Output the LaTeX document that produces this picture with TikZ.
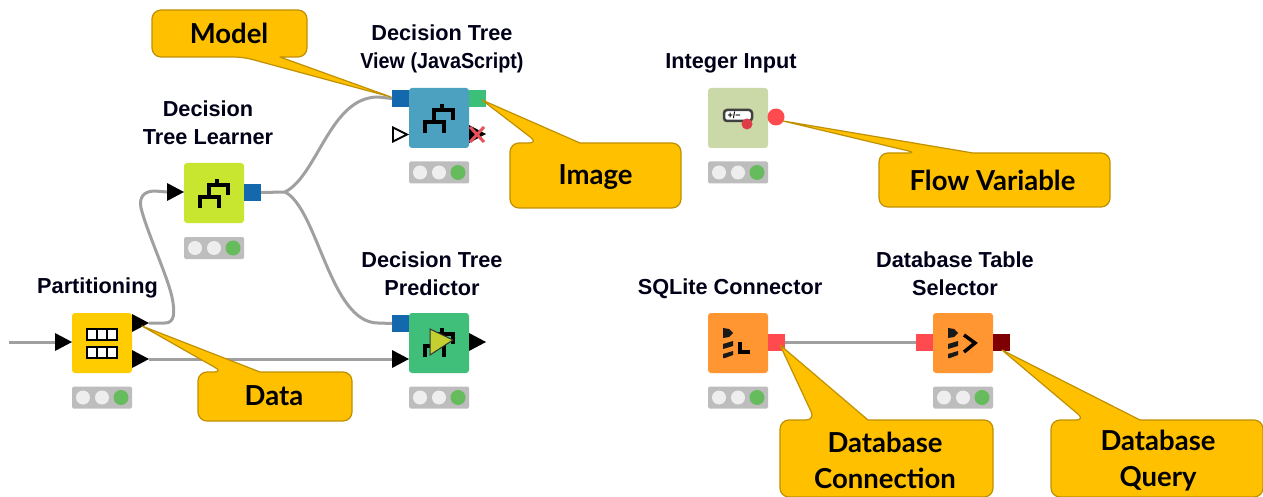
\documentclass[tikz,border=0pt]{standalone}
\usepackage{fontspec}
\usepackage{graphicx}
\setmainfont{Liberation Sans}
\newfontfamily\callfont{Lato}
\definecolor{wirec}{HTML}{A0A0A0}
\definecolor{callfill}{HTML}{FFC000}
\definecolor{callline}{HTML}{BF9000}
\definecolor{portblue}{HTML}{1468AE}
\definecolor{portgreen}{HTML}{3CBF78}
\definecolor{portred}{HTML}{FF4B4F}
\definecolor{portdark}{HTML}{7F0000}
\definecolor{lampoff}{HTML}{EEEEEE}
\definecolor{lampon}{HTML}{66BB5C}
\definecolor{lampbg}{HTML}{BDBDBD}
\tikzset{
  wire/.style={draw=wirec,line width=3pt,line join=round},
  body/.style={rectangle,rounded corners=3pt,minimum size=60pt,inner sep=0pt,outer sep=0pt,draw=none},
  portbox/.style={rectangle,minimum size=17pt,inner sep=0pt,outer sep=0pt,draw=none},
  trinode/.style={rectangle,minimum width=17pt,minimum height=18pt,inner sep=0pt,outer sep=0pt,draw=none,anchor=west},
  lampbar/.style={rectangle,rounded corners=1.5pt,minimum width=60pt,minimum height=22pt,inner sep=0pt,fill=lampbg},
  title/.style={align=center,font=\fontsize{21.7}{28}\selectfont\bfseries,inner sep=0pt,text=black!90!blue},
  calltext/.style={align=center,font=\fontsize{27.5}{36}\selectfont\callfont\bfseries,inner sep=0pt,text=black},
  callshape/.style={fill=callfill,draw=callline,line width=1.2pt,line join=round},
  iconline/.style={draw=black,line width=3.2pt},
}
% x left, y top, x right, y bottom, base x1, base x2, tip
\newcommand{\kcallout}[7]{%
  \draw[callshape] (#5,#2) [sharp corners] -- (#7) -- (#6,#2) [rounded corners=9pt] -- (#3,#2) -- (#3,#4) -- (#1,#4) -- (#1,#2) -- cycle;
}
\newcommand{\ktri}[3]{% name, x of base, y
  \node[trinode] (#1) at (#2,#3) {};
  \fill[black] (#1.south west) -- (#1.north west) -- (#1.east) -- cycle;
}
\newcommand{\klamp}[3]{% name, x centre, y centre
  \node[lampbar] (#1) at (#2,#3) {};
  \fill[lampoff] (#1.center) ++(-19,0) circle (7pt);
  \fill[lampoff] (#1.center) circle (7pt);
  \fill[lampon] (#1.center) ++(19,0) circle (7.5pt);
}
\newcommand{\ktree}[1]{% centre
  \begin{scope}[shift={(#1)}]
    \draw[iconline] (3,-14) -- (3,-8);
    \draw[iconline] (-5,4) -- (-5,-8) -- (14,-8) -- (14,2);
    \draw[iconline] (-14,15) -- (-14,4) -- (5,4) -- (5,15);
  \end{scope}
}
\newcommand{\kstack}[1]{% top-left reference
  \begin{scope}[shift={(#1)}]
    \fill[black!90] (0,-1) -- (6,0) -- (10,4) -- (6,8) -- (0,9) -- cycle;
    \fill[black!90] (0,15) -- (10,12) -- (10,17) -- (0,20) -- cycle;
    \fill[black!90] (0,25) -- (10,22) -- (10,26) -- (2,29) -- (0,29) -- cycle;
  \end{scope}
}
\begin{document}
\begin{tikzpicture}[x=1pt,y=-1pt]
\useasboundingbox (0,0) rectangle (1263,497);
\fill[white] (0,0) rectangle (1263,497);

% node bodies
\node[body,fill={rgb,255:red,255;green,204;blue,0}] (part) at (102,343) {};
\node[body,fill={rgb,255:red,200;green,230;blue,47}] (learn) at (214,193) {};
\node[body,fill={rgb,255:red,77;green,161;blue,192}] (view) at (439,118) {};
\node[body,fill={rgb,255:red,63;green,191;blue,122}] (pred) at (439,343) {};
\node[body,fill={rgb,255:red,203;green,217;blue,168}] (intin) at (738,118) {};
\node[body,fill={rgb,255:red,255;green,150;blue,50}] (sqlite) at (738,343) {};
\node[body,fill={rgb,255:red,255;green,150;blue,50}] (select) at (963,343) {};

% ports
\ktri{partin}{55}{342}
\ktri{partouta}{132}{323}
\ktri{partoutb}{132}{359}
\ktri{learnin}{167}{192}
\node[portbox,fill=portblue] (learnout) at (252.5,192.5) {};
\node[portbox,fill=portblue] (viewin) at (400.5,98.5) {};
\node[portbox,fill=portgreen] (viewout) at (477.5,98.5) {};
\node[trinode,minimum width=14pt,minimum height=14pt] (viewtrig) at (393,134.5) {};
\draw[fill=white,draw=black,line width=1.8pt] (viewtrig.south west) -- (viewtrig.north west) -- (viewtrig.east) -- cycle;
\ktri{viewtrout}{469}{134}
\node[portbox,fill=portblue] (predin) at (400.5,323.5) {};
\ktri{predindata}{392}{359}
\ktri{predout}{469}{342}
\node[circle,minimum size=17pt,inner sep=0pt,fill=portred] (intout) at (776,117) {};
\node[portbox,fill=portred] (sqlout) at (776.5,342.5) {};
\node[portbox,fill=portred] (selin) at (924.5,342.5) {};
\node[portbox,fill=portdark] (selout) at (1001.5,342.5) {};

% connectors
\coordinate (inlet) at (9,342);
\coordinate (branch) at (285,192);
\draw[wire] (inlet) -- (partin.west);
\draw[wire] (partouta.east) -- (165,323) .. controls (175,323) and (175,312) .. (172,297) .. controls (167,275) and (147,232) .. (141,208) .. controls (139,198) and (143,191) .. (155,191) -- (learnin.west);
\draw[wire] (learnout.east) -- (branch);
\draw[wire] (branch) .. controls (318,175) and (330,97) .. (378,97) -- (viewin.west);
\draw[wire] (branch) .. controls (318,209) and (330,323) .. (378,323) -- (predin.west);
\draw[wire] (partoutb.east) -- (predindata.west);
\draw[wire] (sqlout.east) -- (selin.west);

% x on the disabled output
\draw[draw={rgb,255:red,232;green,80;blue,91},line width=3pt] (470,127) -- (484,142) (484,127) -- (470,142);

% status lights
\klamp{partl}{102}{397.5}
\klamp{learnl}{214}{248}
\klamp{viewl}{439}{172.5}
\klamp{predl}{439}{397.5}
\klamp{intl}{738}{172.5}
\klamp{sqll}{738}{397.5}
\klamp{sell}{963}{397.5}

% icons
\ktree{214,193}
\ktree{439,118}
\ktree{439,342}
\fill[draw=black!80,line width=1pt,fill={rgb,255:red,197;green,207;blue,48}] (430,329) -- (453,340) -- (430,355) -- cycle;
\foreach \yy in {329,347} {
  \draw[draw=black,line width=2pt,fill=white] (87,\yy) rectangle (117,\yy+10.5);
  \draw[draw=black,line width=2pt] (97,\yy) -- (97,\yy+10.5) (107,\yy) -- (107,\yy+10.5);
}
\draw[draw=black!75,line width=2.5pt,fill=white,rounded corners=3pt] (724,110) rectangle (752,121);
\node[inner sep=0pt,font=\fontsize{9}{9}\selectfont\bfseries] (inticon) at (734,115) {+/−};
\fill[fill={rgb,255:red,222;green,60;blue,70}] (747,124) circle (5.5pt);
\kstack{723,329}
\draw[iconline,line width=3.5pt] (740,342) -- (740,352) -- (750,352);
\kstack{948,329}
\draw[iconline,line width=3.5pt] (964,335) -- (975,343) -- (964,352);

% node titles
\node[title] (tpart) at (97.5,288) {Partitioning};
\node[title] (tlearn) at (208,123) {Decision\\Tree Learner};
\node[title] (tview) at (442,49) {Decision Tree\\\scalebox{0.91}[1]{View (JavaScript)}};
\node[title] (tpred) at (432,273.5) {Decision Tree\\Predictor};
\node[title] (tint) at (731,63.5) {Integer Input};
\node[title] (tsql) at (730,288.5) {SQLite Connector};
\node[title] (tsel) at (955,273.5) {Database Table\\Selector};

% callouts
\draw[callshape] (243,57) [sharp corners] -- (391,97) -- (280,57) [rounded corners=9pt] -- (307,57) -- (307,10) -- (152,10) -- (152,57) -- cycle;
\kcallout{510}{143}{681}{208}{538}{580}{482,100}
\kcallout{879}{153}{1110}{207}{917}{973}{783,121}
\kcallout{198}{372}{352}{421}{223}{260}{142,326}
\kcallout{780}{420}{993}{497}{815}{868}{780,345}
\kcallout{1051}{420}{1263}{497}{1085}{1140}{1002,350}
\node[calltext,anchor=base] (cmodel) at (229,43.5) {Model};
\node[calltext,anchor=base] (cimage) at (595.5,185) {Image};
\node[calltext,anchor=base] (cflow) at (992.5,190) {Flow Variable};
\node[calltext,anchor=base] (cdata) at (274,405) {Data};
\node[calltext] (cconn) at (885,460.5) {Database\\Connection};
\node[calltext] (cquery) at (1158,460.5) {Database\\Query};
\end{tikzpicture}
\end{document}
